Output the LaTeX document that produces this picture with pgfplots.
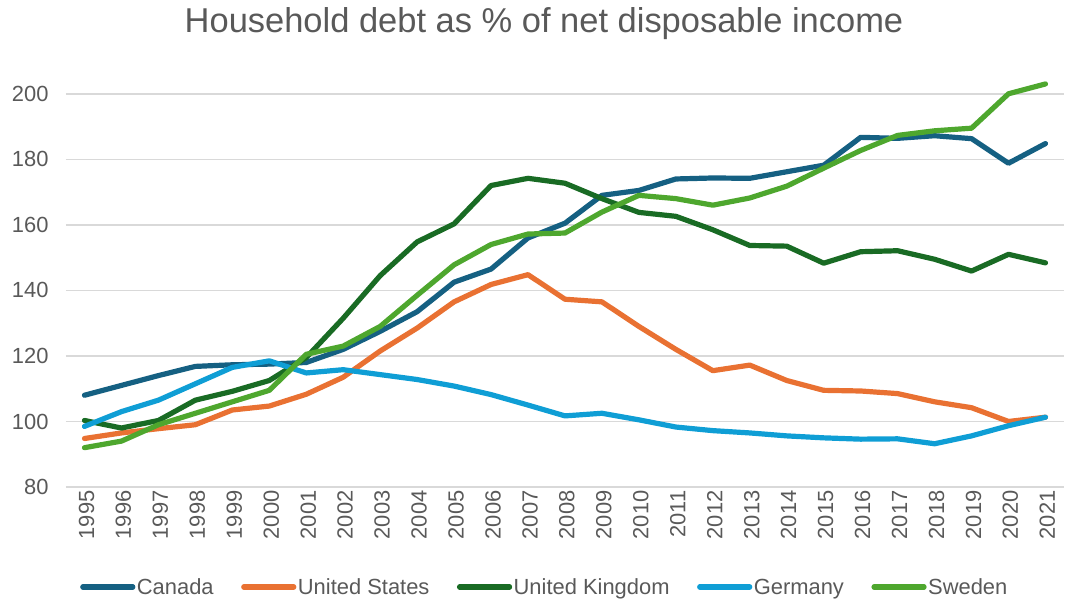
\documentclass[border=0pt]{standalone}
\usepackage{fontspec}
\setmainfont{Liberation Sans}
\usepackage{pgfplots}
\pgfplotsset{compat=1.18}
\definecolor{txt}{HTML}{595959}
\definecolor{gridc}{HTML}{D9D9D9}
\definecolor{cCA}{HTML}{156082}
\definecolor{cUS}{HTML}{E97132}
\definecolor{cUK}{HTML}{196B24}
\definecolor{cDE}{HTML}{0F9ED5}
\definecolor{cSE}{HTML}{4EA72E}
\begin{document}
\begin{tikzpicture}
\useasboundingbox (-66bp,-113bp) rectangle (1002bp,487bp);
\begin{axis}[
  scale only axis,
  width=998bp, height=426bp,
  xmin=1994.5, xmax=2021.5,
  ymin=80, ymax=210,
  xtick={1995,...,2021},
  ytick={80,100,...,200},
  axis line style={draw=none},
  major tick length=0pt,
  ymajorgrids,
  grid style={gridc, line width=1.6bp},
  /pgf/number format/assume math mode=true,
  /pgf/number format/1000 sep={},
  tick label style={font=\fontsize{22}{24}\selectfont, text=txt},
  yticklabel style={anchor=east, xshift=-14bp},
  xticklabel style={rotate=90, anchor=east, yshift=-2bp, xshift=0bp},
  every axis plot/.append style={line width=5.2bp, line cap=round, line join=round},
  legend columns=5,
  legend style={at={(0.4795,-0.2347)}, anchor=center, draw=none, fill=none,
    font=\fontsize{22}{24}\selectfont, text=txt,
    nodes={inner sep=1.5bp},
    /tikz/every even column/.append style={column sep=26bp}},
  legend image code/.code={\draw[#1, line width=5.2bp, line cap=round] (0bp,0bp) -- (50bp,0bp);},
  clip=false,
]
\addplot[cCA] coordinates {
(1995,108) (1996,111) (1997,114) (1998,116.8) (1999,117.3) (2000,117.5) (2001,118) (2002,122) (2003,127.5) (2004,133.5) (2005,142.5) (2006,146.5) (2007,156) (2008,160.5) (2009,169) (2010,170.5) (2011,174) (2012,174.3) (2013,174.2) (2014,176.2) (2015,178.2) (2016,186.7) (2017,186.4) (2018,187.2) (2019,186.3) (2020,178.8) (2021,184.8)};
\addlegendentry{\strut Canada}
\addplot[cUS] coordinates {
(1995,94.8) (1996,96.5) (1997,97.8) (1998,99) (1999,103.5) (2000,104.7) (2001,108.3) (2002,113.5) (2003,121.5) (2004,128.5) (2005,136.5) (2006,141.8) (2007,144.8) (2008,137.3) (2009,136.5) (2010,129) (2011,122) (2012,115.5) (2013,117.2) (2014,112.5) (2015,109.5) (2016,109.3) (2017,108.5) (2018,106) (2019,104.2) (2020,100) (2021,101.3)};
\addlegendentry{\strut United States}
\addplot[cUK] coordinates {
(1995,100.3) (1996,98) (1997,100.3) (1998,106.5) (1999,109.2) (2000,112.5) (2001,119.5) (2002,131.5) (2003,144.5) (2004,154.8) (2005,160.3) (2006,172) (2007,174.2) (2008,172.7) (2009,168) (2010,163.8) (2011,162.6) (2012,158.5) (2013,153.7) (2014,153.5) (2015,148.3) (2016,151.8) (2017,152.1) (2018,149.5) (2019,145.9) (2020,151) (2021,148.4)};
\addlegendentry{\strut United Kingdom}
\addplot[cDE] coordinates {
(1995,98.5) (1996,103) (1997,106.5) (1998,111.5) (1999,116.5) (2000,118.5) (2001,114.8) (2002,115.8) (2003,114.3) (2004,112.8) (2005,110.8) (2006,108.2) (2007,105) (2008,101.7) (2009,102.5) (2010,100.5) (2011,98.3) (2012,97.2) (2013,96.5) (2014,95.6) (2015,95) (2016,94.6) (2017,94.7) (2018,93.2) (2019,95.6) (2020,98.7) (2021,101.3)};
\addlegendentry{\strut Germany}
\addplot[cSE] coordinates {
(1995,92) (1996,94) (1997,99) (1998,102.5) (1999,106) (2000,109.5) (2001,120.5) (2002,123) (2003,129) (2004,138.5) (2005,147.8) (2006,154) (2007,157.2) (2008,157.5) (2009,163.9) (2010,169) (2011,168) (2012,166) (2013,168.2) (2014,171.8) (2015,177.3) (2016,182.7) (2017,187.3) (2018,188.7) (2019,189.5) (2020,200) (2021,203)};
\addlegendentry{\strut Sweden}
\end{axis}
\node[text=txt, font=\fontsize{34.6}{38}\selectfont, anchor=center] at (478bp,463bp) {Household debt as \% of net disposable income};
\end{tikzpicture}
\end{document}
